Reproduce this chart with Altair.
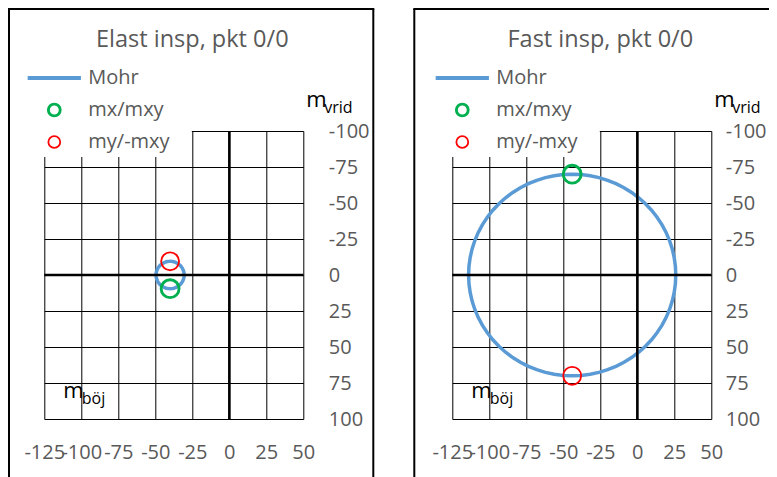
import altair as alt
import pandas as pd
import numpy as np

# ---- data ----
titles = ["Elast insp, pkt 0/0", "Fast insp, pkt 0/0"]
mx_vals = [-40, -44]
my_vals = [-40, -44]
mxy_vals = [9.5, -70]
series = ["Mohr", "mx/mxy", "my/-mxy"]
series_colors = ["#5B9BD5", "#00B050", "#FF0000"]
x_ticks = [-125, -100, -75, -50, -25, 0, 25, 50]
y_ticks = [-100, -75, -50, -25, 0, 25, 50, 75, 100]

FONT = "Open Sans"
GRAY = "#595959"

PAD_L, PAD_T = 36.3, 123


def panel(i, frame_left, frame_right, ylab_pad):
    mx, my, mxy = mx_vals[i], my_vals[i], mxy_vals[i]
    # Mohr circle built from mx, my, mxy (centre and radius)
    c = (mx + my) / 2
    r = float(np.hypot((mx - my) / 2, mxy))
    ang = np.radians(np.arange(0, 361, 5))
    circ = pd.DataFrame({"x": c + r * np.cos(ang), "y": r * np.sin(ang), "k": np.arange(len(ang))})
    pts = pd.DataFrame({"x": [mx, my], "y": [mxy, -mxy], "series": series[1:]})
    one = pd.DataFrame({"t": [titles[i]]})

    xs = alt.Scale(domain=[-125, 50], nice=False, zero=False)
    ys = alt.Scale(domain=[-100, 100], reverse=True, nice=False, zero=False)
    xax = alt.Axis(values=x_ticks, tickCount=50, title=None, grid=True, domain=False, ticks=False,
                   labelPadding=23, labelOverlap=False, labelFlush=False, labelBound=False,
                   labelExpr="'' + datum.value")
    yax = alt.Axis(values=y_ticks, tickCount=50, orient="right", title=None, grid=True, domain=False,
                   ticks=False, labelAlign="left", labelPadding=ylab_pad, labelOverlap=False,
                   labelFlush=False, labelBaseline="middle", labelExpr="'' + datum.value")
    xenc = alt.X("x:Q", scale=xs, axis=xax)
    yenc = alt.Y("y:Q", scale=ys, axis=yax)

    mask = alt.Chart(one).mark_rect(color="white").encode(
        x=alt.value(-1), x2=alt.value(147.5), y=alt.value(-1), y2=alt.value(26))

    mohr = alt.Chart(circ).mark_line(color=series_colors[0], strokeWidth=3.5).encode(
        x=xenc, y=yenc, order="k:Q")

    zx = alt.Chart(one).mark_rule(color="black", strokeWidth=2.5).encode(x=alt.datum(0))
    zy = alt.Chart(one).mark_rule(color="black", strokeWidth=2.5).encode(y=alt.datum(0))

    leg = alt.Legend(title=None, orient="none", legendX=0, legendY=-63, padding=0,
                     labelFont=FONT, labelFontSize=20, labelColor=GRAY, labelOffset=24,
                     rowPadding=10, symbolSize=140)
    points = alt.Chart(pts).mark_point(filled=False, size=320, opacity=1).encode(
        x=xenc, y=yenc,
        stroke=alt.Stroke("series:N", scale=alt.Scale(domain=series, range=series_colors), legend=leg),
        shape=alt.Shape("series:N", scale=alt.Scale(domain=series, range=["M-4.5,0H4.5", "circle", "circle"]), legend=leg),
        strokeWidth=alt.StrokeWidth("series:N", scale=alt.Scale(domain=series, range=[4, 1.8, 1.8]), legend=leg),
    )

    fl = alt.Chart(one).mark_rule(color="black", strokeWidth=2)
    top = 1 - PAD_T
    frame = [
        fl.encode(x=alt.value(frame_left), y=alt.value(top), y2=alt.value(360)),
        fl.encode(x=alt.value(frame_left - 1), x2=alt.value(frame_right + 1), y=alt.value(top)),
    ]
    if frame_right < 330:
        frame.append(fl.encode(x=alt.value(frame_right), y=alt.value(top), y2=alt.value(360)))

    title = alt.Chart(one).mark_text(font=FONT, fontSize=23.5, color=GRAY, align="center",
                                     baseline="alphabetic").encode(
        text="t:N", x=alt.value(148), y=alt.value(-84))
    tm = alt.Chart(one).mark_text(font=FONT, fontSize=22, color="black", align="left", baseline="alphabetic")
    ts = alt.Chart(one).mark_text(font=FONT, fontSize=16, color="black", align="left", baseline="alphabetic")
    texts = [
        tm.encode(text=alt.value("m"), x=alt.value(262), y=alt.value(-24)),
        ts.encode(text=alt.value("vrid"), x=alt.value(280), y=alt.value(-18)),
        tm.encode(text=alt.value("m"), x=alt.value(19), y=alt.value(267)),
        ts.encode(text=alt.value("böj"), x=alt.value(37.5), y=alt.value(273)),
    ]

    return alt.layer(mask, mohr, zx, zy, points, *frame, title, *texts).properties(width=259, height=288)


left = panel(0, 1 - PAD_L, 329, 25)
right = panel(1, -38, 330, 14)

chart = alt.hconcat(left, right, spacing=149, bounds="flush").resolve_scale(
    x="independent", y="independent", stroke="independent", shape="independent",
    strokeWidth="independent").resolve_legend(
    stroke="independent", shape="independent", strokeWidth="independent").properties(
    autosize=alt.AutoSizeParams(type="none"),
    padding={"left": PAD_L, "top": PAD_T, "right": 761 - PAD_L, "bottom": 469 - PAD_T}
).configure_view(strokeWidth=0).configure_axis(
    gridColor="black", gridWidth=1, gridOpacity=1, labelFont=FONT, labelFontSize=20,
    labelColor=GRAY)

chart.save("out.html", embed_options={"renderer": "svg", "actions": False})
